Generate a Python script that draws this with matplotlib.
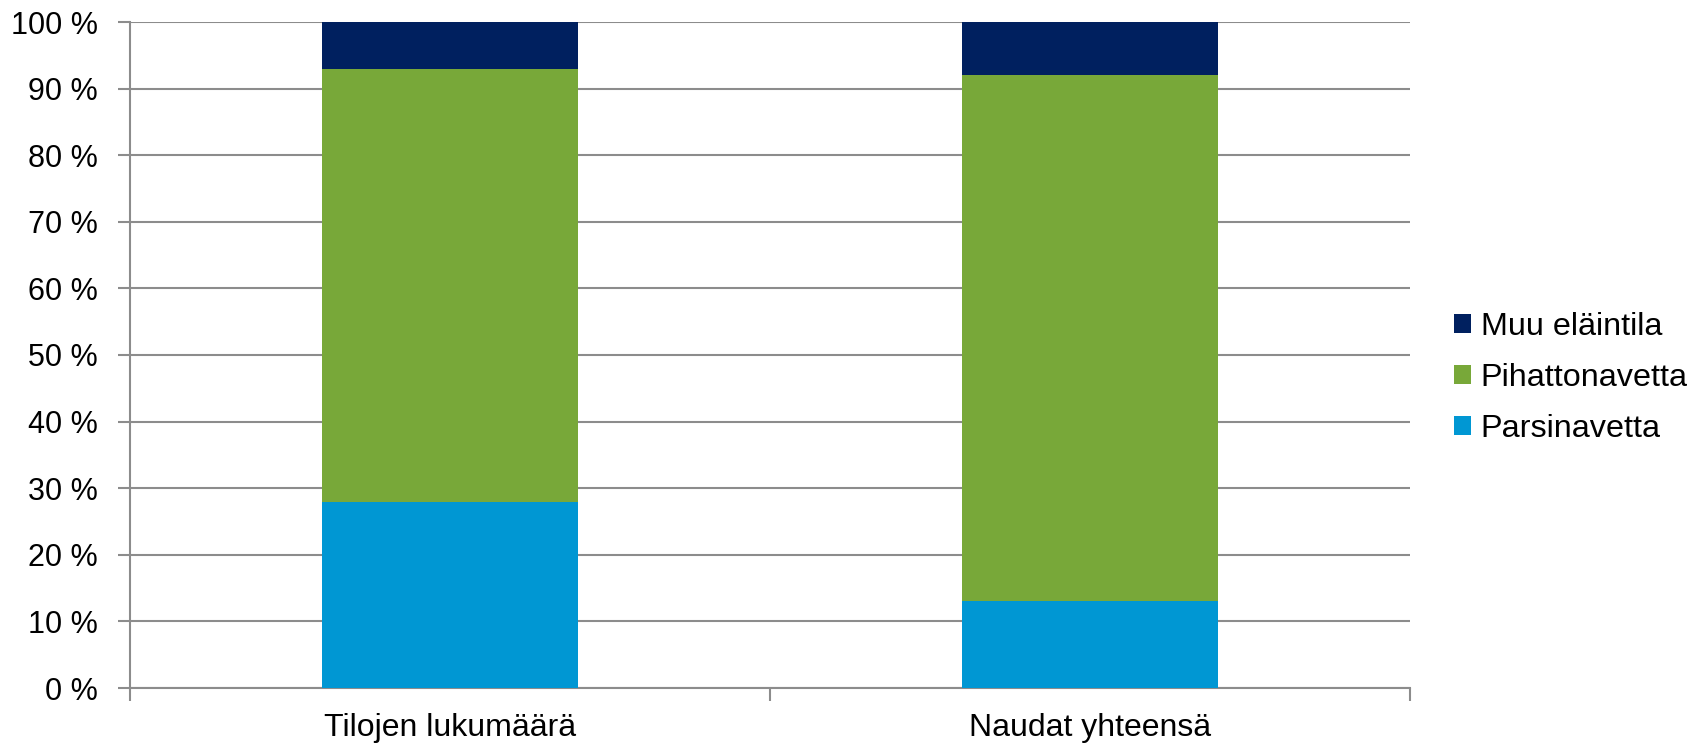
import numpy as np
import matplotlib
matplotlib.use("Agg")
import matplotlib.pyplot as plt
from matplotlib.ticker import FuncFormatter

plt.rcParams["font.family"] = ["Liberation Sans", "DejaVu Sans"]

# DATA
kategoriat = ["Tilojen lukumäärä", "Naudat yhteensä"]
parsinavetta = [28, 13]
pihattonavetta = [65, 79]
muu_elaintila = [7, 8]

sarjat = ["Parsinavetta", "Pihattonavetta", "Muu eläintila"]
varit = ["#0097D3", "#78A839", "#00205F"]

fig = plt.figure(figsize=(16.94, 7.43), dpi=100)
ax = fig.add_axes([130 / 1694, 55 / 743, 1280 / 1694, 666 / 743])

x = np.arange(len(kategoriat))
pohja = np.zeros(len(kategoriat))

for nimi, arvot, vari in zip(sarjat, [parsinavetta, pihattonavetta, muu_elaintila], varit):
    ax.bar(x, arvot, width=0.4, bottom=pohja, color=vari, label=nimi, zorder=3)
    pohja = pohja + np.array(arvot)

ax.set_xlim(-0.5, 1.5)
ax.set_ylim(0, 100)
ax.set_yticks(np.arange(0, 101, 10))
ax.yaxis.set_major_formatter(FuncFormatter(lambda v, p: f"{int(v)} %"))

# kategoria-nimet keskelle, tikit rajoille
ax.set_xticks(x)
ax.set_xticklabels(kategoriat, fontsize=23)
ax.set_xticks([-0.5, 0.5, 1.5], minor=True)
ax.tick_params(axis="x", which="major", length=0, pad=18)
ax.tick_params(axis="x", which="minor", length=9, width=1.5, color="#8C8C8C")
ax.tick_params(axis="y", length=9, width=1.5, color="#8C8C8C", labelsize=22, pad=14)

ax.grid(axis="y", color="#8C8C8C", linewidth=1.5, zorder=0)
for s in ["top", "right"]:
    ax.spines[s].set_visible(False)
ax.spines["left"].set_color("#8C8C8C")
ax.spines["left"].set_linewidth(1.5)
ax.spines["bottom"].set_color("#8C8C8C")
ax.spines["bottom"].set_linewidth(1.5)

kahvat, nimet = ax.get_legend_handles_labels()
fig.legend(kahvat[::-1], nimet[::-1], loc="center left",
           bbox_to_anchor=(1454 / 1694, 1 - 378 / 743),
           frameon=False, fontsize=23.3, handlelength=0.53, handleheight=0.53,
           handletextpad=0.3, labelspacing=0.64, borderpad=0, borderaxespad=0)

fig.savefig("out.png", dpi=100)
